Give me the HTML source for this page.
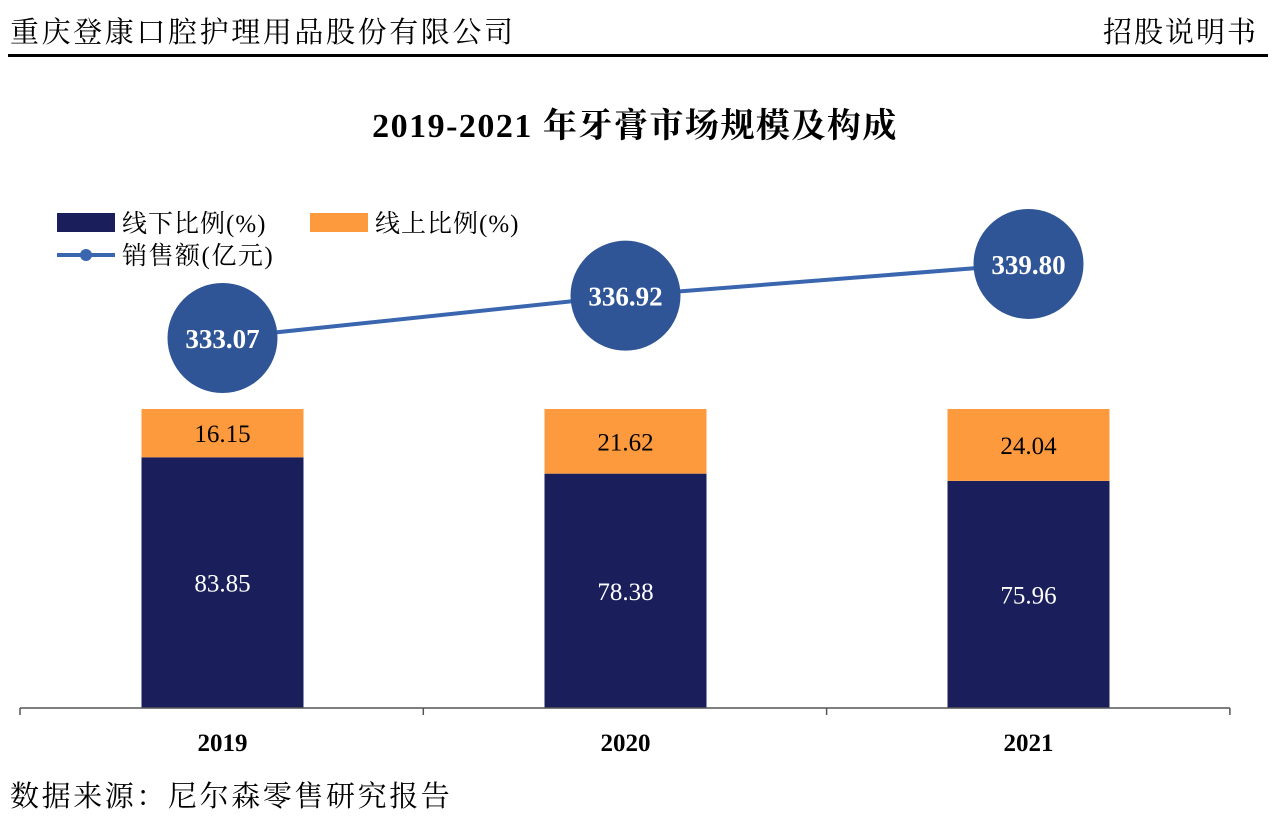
<!DOCTYPE html>
<html><head><meta charset="utf-8"><style>
body{margin:0;background:#fff;width:1283px;height:821px;overflow:hidden;font-family:"Liberation Serif","Noto Serif CJK SC",serif;}
svg{position:absolute;left:0;top:0}
</style></head><body>
<svg width="1283" height="821">
<text x="10" y="42" font-size="29" letter-spacing="2.6" fill="#000">重庆登康口腔护理用品股份有限公司</text>
<text x="1258" y="42" font-size="29" letter-spacing="2" text-anchor="end" fill="#000">招股说明书</text>
<rect x="8" y="54" width="1260" height="3" fill="#000"/>
<text x="635" y="137" font-size="34" letter-spacing="1.5" font-weight="bold" text-anchor="middle">2019-2021 年牙膏市场规模及构成</text>
<rect x="57" y="213" width="58" height="19" fill="#1a1f5c"/>
<text x="122" y="232" font-size="25" letter-spacing="1">线下比例(%)</text>
<rect x="310" y="213" width="58" height="19" fill="#fd9a3d"/>
<text x="375" y="232" font-size="25" letter-spacing="1">线上比例(%)</text>
<line x1="57" y1="255" x2="115" y2="255" stroke="#3a66b0" stroke-width="4"/>
<circle cx="86" cy="255" r="6" fill="#3a66b0"/>
<text x="122" y="264" font-size="25" letter-spacing="1.5">销售额(亿元)</text>
<g id="plot"></g>
<text x="10" y="806" font-size="29" letter-spacing="2.6">数据来源：尼尔森零售研究报告</text>
</svg>
<script>
const categories=["2019","2020","2021"];
const offline=[83.85,78.38,75.96];
const online=[16.15,21.62,24.04];
const sales=[333.07,336.92,339.80];
const NS="http://www.w3.org/2000/svg";
const g=document.getElementById('plot');
const base=708, pxPct=2.99;
const xC=i=>222.5+i*403;
const yPct=v=>base-v*pxPct;
const ySales=v=>338-(v-333.07)*11;
function mk(t,a){const e=document.createElementNS(NS,t);for(const k in a)e.setAttribute(k,a[k]);g.appendChild(e);return e;}
categories.forEach((c,i)=>{
  const x=xC(i)-81;
  const r1=mk('rect',{x:x,y:yPct(offline[i]),width:162,height:offline[i]*pxPct,fill:'#1a1f5c'});
  
  
  const r2=mk('rect',{x:x,y:yPct(offline[i]+online[i]),width:162,height:online[i]*pxPct,fill:'#fd9a3d'});
  
  
  const t1=mk('text',{x:xC(i),y:yPct(offline[i]/2)+9,'font-size':25,fill:'#fff','text-anchor':'middle'});
  t1.textContent=offline[i].toFixed(2);
  
  
  const t2=mk('text',{x:xC(i),y:yPct(offline[i]+online[i]/2)+9,'font-size':25,fill:'#000','text-anchor':'middle'});
  t2.textContent=online[i].toFixed(2);
  
  
  const ty=mk('text',{x:xC(i),y:751,'font-size':25,'font-weight':'bold','text-anchor':'middle'});
  ty.textContent=c;
  
  
});
const ax=mk('line',{x1:20,y1:base,x2:1230,y2:base,stroke:'#555','stroke-width':1.5});


for(let k=0;k<=3;k++){const tk=mk('line',{x1:20+k*403.3,y1:base,x2:20+k*403.3,y2:base+7,stroke:'#555','stroke-width':1.5});

}
const pl=mk('polyline',{points:sales.map((v,i)=>xC(i)+','+ySales(v)).join(' '),fill:'none',stroke:'#3a66b0','stroke-width':4});


sales.forEach((v,i)=>{
  const c=mk('circle',{cx:xC(i),cy:ySales(v),r:55,fill:'#2f5597'});
  
  
  const t=mk('text',{x:xC(i),y:ySales(v)+10,'font-size':27,'font-weight':'bold',fill:'#fff','text-anchor':'middle'});
  t.textContent=v.toFixed(2);
  
  
});
</script>
</body></html>
